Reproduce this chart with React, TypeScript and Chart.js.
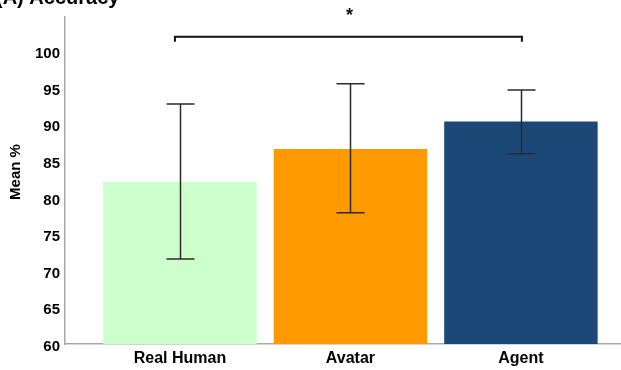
import React, { useEffect, useRef } from "react";
import { Chart, registerables } from "chart.js";

Chart.register(...registerables);

const categories = ["Real Human", "Avatar", "Agent"];
const means = [82.1, 86.6, 90.35];
const errLow = [71.6, 77.9, 85.95];
const errHigh = [92.75, 95.5, 94.65];
const barColors = ["#CCFFCC", "#FF9900", "#1B4876"];
const yTicks = [60, 65, 70, 75, 80, 85, 90, 95, 100];
const sigFrom = [0];
const sigTo = [2];
const sigLevel = [101.9];
const sigLabels = ["*"];
const chartTitle = "(A) Accuracy";
const yAxisTitle = "Mean %";

const FONT = "'Liberation Sans', Arial, sans-serif";

const overlayPlugin = {
  id: "overlay",
  afterDraw(chart: any) {
    const ctx = chart.ctx;
    const x = chart.scales.x;
    const y = chart.scales.y;
    ctx.save();

    // error bars
    ctx.strokeStyle = "#2b2b2b";
    ctx.lineWidth = 1.5;
    for (let i = 0; i < categories.length; i++) {
      const cx = Math.round(x.getPixelForValue(i)) + 0.5;
      const yh = y.getPixelForValue(errHigh[i]);
      const yl = y.getPixelForValue(errLow[i]);
      ctx.beginPath();
      ctx.moveTo(cx, yh);
      ctx.lineTo(cx, yl);
      ctx.moveTo(cx - 14, yh);
      ctx.lineTo(cx + 14, yh);
      ctx.moveTo(cx - 14, yl);
      ctx.lineTo(cx + 14, yl);
      ctx.stroke();
    }

    // significance brackets
    ctx.strokeStyle = "#111";
    ctx.lineWidth = 2;
    ctx.fillStyle = "#111";
    for (let k = 0; k < sigFrom.length; k++) {
      const x1 = x.getPixelForValue(sigFrom[k]) - 5;
      const x2 = x.getPixelForValue(sigTo[k]) + 1;
      const yb = y.getPixelForValue(sigLevel[k]);
      ctx.beginPath();
      ctx.moveTo(x1, yb + 5);
      ctx.lineTo(x1, yb);
      ctx.lineTo(x2, yb);
      ctx.lineTo(x2, yb + 5);
      ctx.stroke();
      ctx.font = "bold 18px " + FONT;
      ctx.textAlign = "center";
      ctx.textBaseline = "alphabetic";
      ctx.fillText(sigLabels[k], (x1 + x2) / 2 + 1, yb - 16);
    }

    // title (partially cut at top)
    ctx.fillStyle = "#000";
    ctx.font = "bold 20px " + FONT;
    ctx.textAlign = "left";
    ctx.textBaseline = "alphabetic";
    ctx.fillText(chartTitle, -4, 4);

    // y axis title
    ctx.save();
    ctx.translate(16, 172);
    ctx.rotate(-Math.PI / 2);
    ctx.font = "bold 15px " + FONT;
    ctx.textAlign = "center";
    ctx.textBaseline = "middle";
    ctx.fillText(yAxisTitle, 0, 0);
    ctx.restore();

    ctx.restore();
  },
};

export default function App() {
  const ref = useRef<HTMLCanvasElement | null>(null);

  useEffect(() => {
    if (!ref.current) return;
    const chart = new Chart(ref.current, {
      type: "bar",
      data: {
        datasets: [
          {
            data: means.map((v, i) => ({ x: i, y: v })),
            backgroundColor: barColors,
            borderWidth: 0,
            barPercentage: 0.9,
            categoryPercentage: 1,
          },
        ],
      },
      options: {
        animation: false,
        responsive: true,
        maintainAspectRatio: false,
        layout: { padding: { top: 17, left: 0, right: 0, bottom: 0 } },
        plugins: {
          legend: { display: false },
          tooltip: { enabled: false },
          title: { display: false },
        },
        scales: {
          x: {
            type: "linear",
            offset: false,
            min: -0.674,
            max: 2.587,
            grid: { display: false, drawTicks: false, offset: false },
            border: { display: true, color: "#A8A8A8", width: 1.5 },
            afterBuildTicks: (scale: any) => {
              scale.ticks = categories.map((_, i) => ({ value: i }));
            },
            afterFit: (scale: any) => {
              scale.height = 26;
            },
            ticks: {
              autoSkip: false,
              maxRotation: 0,
              padding: 5,
              color: "#000",
              font: { family: FONT, size: 16, weight: "bold" },
              callback: (v: any) => categories[v] ?? "",
            },
          },
          y: {
            min: 60,
            max: 104.6,
            grid: { display: false, drawTicks: false },
            border: { display: true, color: "#A8A8A8", width: 1.5 },
            afterBuildTicks: (scale: any) => {
              scale.ticks = yTicks.map((v) => ({ value: v }));
            },
            afterFit: (scale: any) => {
              scale.width = 65;
            },
            ticks: {
              padding: 5,
              labelOffset: 3,
              color: "#000",
              font: { family: FONT, size: 15, weight: "bold" },
              callback: (v: any) => String(v),
            },
          },
        },
      },
      plugins: [overlayPlugin],
    } as any);
    return () => chart.destroy();
  }, []);

  return (
    <div
      style={{
        position: "absolute",
        left: 0,
        top: 0,
        width: 621,
        height: 370,
        background: "#fff",
      }}
    >
      <canvas ref={ref} />
    </div>
  );
}
